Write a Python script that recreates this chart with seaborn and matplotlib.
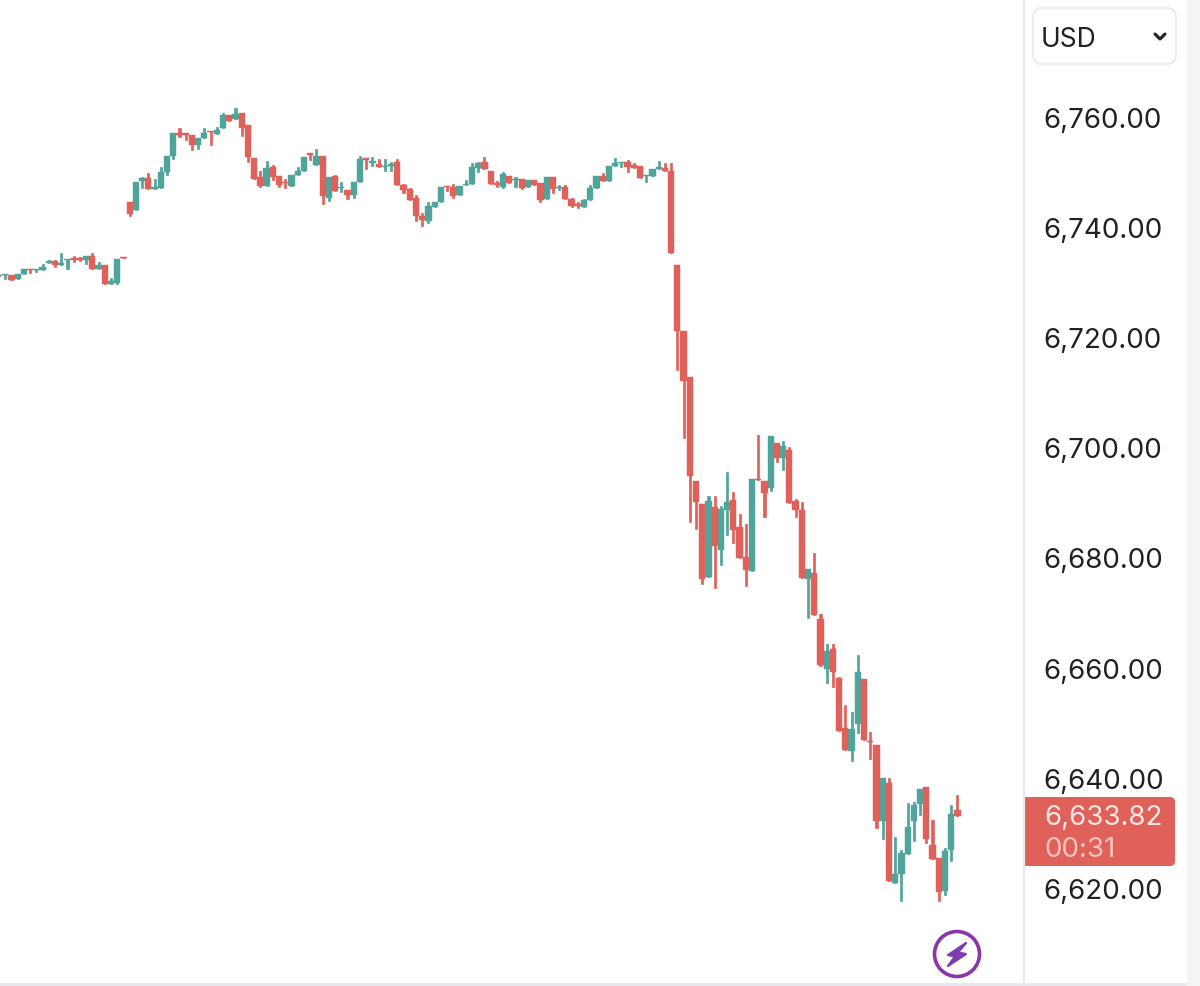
import numpy as np
import pandas as pd
import matplotlib
matplotlib.use("Agg")
import matplotlib.pyplot as plt
from matplotlib.patches import FancyBboxPatch, Rectangle, Circle, Polygon
import seaborn as sns

###
#   Candles, oldest first
###
open_price = [
    6731.5,6731.4,6731.4,6730.7,6731.6,6732.6,6732.4,6732.4,6733.7,6734.0,
    6733.2,6734.1,6734.5,6734.5,6734.2,6735.0,6732.6,6733.3,6729.8,6730.0,
    6734.8,6744.7,6743.2,6748.5,6749.0,6747.1,6747.2,6750.1,6753.0,6757.3,
    6757.2,6756.9,6755.0,6756.4,6757.6,6757.0,6758.1,6760.5,6759.8,6760.8,
    6758.7,6752.7,6749.2,6747.6,6751.1,6749.4,6748.4,6747.6,6749.6,6750.4,
    6753.6,6751.4,6753.1,6745.5,6749.5,6747.2,6746.9,6746.0,6748.4,6752.7,
    6751.8,6751.6,6751.0,6751.2,6751.9,6747.8,6747.0,6745.4,6742.1,6741.2,
    6743.8,6744.8,6747.7,6747.5,6746.0,6747.8,6747.9,6750.9,6751.9,6750.4,
    6748.1,6747.5,6749.5,6748.7,6748.9,6747.5,6748.7,6748.1,6745.2,6749.2,
    6747.2,6747.4,6745.3,6744.4,6743.8,6745.0,6747.3,6749.5,6748.5,6751.2,
    6751.8,6752.0,6751.5,6751.2,6749.5,6749.5,6750.8,6750.9,6750.3,6733.3,
    6721.3,6712.9,6694.1,6689.8,6676.7,6689.4,6681.5,6688.7,6690.6,6685.7,
    6680.3,6677.8,6694.5,6694.1,6692.8,6701.0,6698.2,6699.7,6690.5,6688.7,
    6676.2,6677.4,6669.0,6660.0,6663.6,6658.3,6649.2,6645.0,6650.0,6658.1,
    6646.9,6646.1,6632.4,6639.3,6621.0,6622.7,6626.4,6632.4,6635.4,6638.5,
    6627.9,6625.6,6619.6,6627.0,6634.3]
high_price = [
    6731.5,6731.7,6731.4,6731.6,6732.5,6732.6,6732.6,6733.5,6734.2,6734.2,
    6735.4,6734.3,6735.0,6734.8,6734.9,6735.4,6733.8,6733.3,6730.9,6734.3,
    6734.8,6744.7,6748.4,6749.3,6750.0,6748.9,6751.0,6753.0,6757.3,6758.2,
    6757.2,6756.9,6756.4,6758.2,6757.6,6758.3,6760.8,6760.5,6761.8,6760.8,
    6758.7,6752.7,6750.3,6752.1,6751.5,6749.4,6748.9,6749.6,6751.1,6752.9,
    6753.6,6754.4,6753.1,6749.2,6749.7,6748.4,6746.9,6748.4,6753.0,6752.7,
    6752.9,6752.5,6752.5,6751.9,6752.5,6748.0,6747.3,6745.9,6742.7,6744.7,
    6744.8,6747.4,6747.7,6748.0,6747.7,6748.7,6751.8,6751.9,6752.9,6750.4,
    6748.6,6750.2,6749.5,6749.2,6748.9,6748.8,6748.7,6748.1,6749.3,6749.2,
    6747.8,6747.8,6745.5,6744.8,6745.3,6747.8,6749.4,6750.0,6751.2,6752.7,
    6751.9,6752.4,6751.8,6751.2,6749.7,6750.7,6752.1,6751.8,6751.8,6733.3,
    6721.3,6712.9,6694.1,6689.8,6691.4,6691.4,6689.6,6695.7,6692.1,6688.0,
    6686.3,6694.5,6702.4,6694.1,6702.2,6701.0,6701.3,6700.3,6690.8,6690.2,
    6678.0,6681.0,6669.9,6664.4,6664.4,6658.5,6653.3,6652.1,6662.4,6658.1,
    6648.4,6646.1,6640.2,6640.1,6629.4,6627.1,6635.5,6635.8,6638.2,6638.5,
    6632.5,6625.6,6627.5,6635.3,6637.0]
low_price = [
    6731.3,6730.7,6730.6,6730.7,6731.6,6731.8,6732.0,6732.4,6733.7,6733.0,
    6733.2,6732.6,6733.9,6734.0,6733.4,6732.6,6732.6,6729.8,6729.8,6729.8,
    6734.5,6742.1,6743.2,6747.2,6747.1,6747.1,6747.2,6749.6,6752.6,6756.5,
    6755.9,6754.2,6754.4,6756.4,6755.1,6757.0,6758.1,6759.5,6759.8,6756.7,
    6752.0,6748.9,6747.4,6747.6,6748.7,6747.5,6747.2,6747.6,6749.6,6750.4,
    6752.4,6751.4,6744.4,6744.9,6746.8,6746.6,6745.2,6745.4,6748.4,6750.7,
    6751.3,6751.0,6750.4,6750.4,6747.8,6746.3,6745.0,6741.2,6740.4,6740.9,
    6743.8,6744.8,6746.7,6745.4,6746.0,6747.8,6747.9,6750.2,6750.7,6748.0,
    6747.5,6747.2,6748.1,6747.5,6747.0,6747.5,6747.8,6744.7,6745.2,6746.4,
    6746.9,6745.2,6743.8,6743.7,6743.8,6745.0,6747.3,6748.6,6748.5,6751.2,
    6751.0,6750.1,6750.9,6749.0,6748.3,6749.5,6750.8,6750.4,6735.5,6714.2,
    6701.9,6686.6,6685.4,6675.3,6676.7,6674.7,6678.8,6684.3,6682.8,6680.0,
    6674.9,6677.8,6694.2,6687.6,6692.3,6697.5,6696.1,6690.1,6687.6,6676.5,
    6669.1,6669.8,6660.4,6657.3,6656.6,6648.7,6645.2,6643.3,6648.3,6647.0,
    6643.5,6631.1,6629.1,6621.4,6621.0,6617.8,6626.4,6628.6,6633.4,6628.3,
    6625.4,6617.8,6618.8,6625.1,6633.2]
close_price = [
    6731.3,6731.7,6730.6,6731.6,6732.5,6732.4,6732.6,6733.0,6734.0,6733.2,
    6733.7,6734.3,6734.1,6734.2,6734.9,6732.6,6733.3,6729.8,6730.3,6734.3,
    6734.5,6742.6,6748.3,6749.1,6747.1,6747.5,6750.1,6753.0,6757.3,6756.9,
    6756.9,6755.1,6756.4,6757.2,6757.4,6757.8,6760.5,6759.5,6760.7,6758.1,
    6752.9,6748.9,6747.6,6750.9,6749.3,6747.8,6748.1,6749.6,6750.3,6752.9,
    6753.3,6753.0,6745.8,6749.2,6746.8,6747.4,6746.0,6748.4,6752.6,6752.4,
    6752.1,6751.0,6751.3,6751.6,6747.8,6746.9,6745.0,6742.1,6741.4,6744.0,
    6744.8,6747.4,6747.5,6745.8,6747.7,6748.0,6751.0,6751.8,6750.7,6748.0,
    6747.8,6749.8,6748.1,6748.9,6747.2,6748.8,6747.8,6745.1,6749.3,6747.1,
    6747.5,6745.2,6744.0,6744.0,6745.0,6747.2,6749.4,6748.6,6751.2,6751.8,
    6751.9,6751.0,6750.9,6749.0,6749.7,6750.7,6751.0,6750.4,6735.5,6721.3,
    6712.2,6694.9,6690.2,6676.3,6690.4,6682.3,6688.9,6690.2,6685.1,6680.0,
    6677.9,6694.5,6694.2,6691.8,6702.2,6698.2,6700.4,6690.1,6688.7,6676.5,
    6678.0,6669.8,6660.6,6663.1,6659.4,6648.7,6645.2,6649.1,6659.3,6647.0,
    6646.6,6632.4,6640.2,6621.4,6622.7,6626.5,6631.2,6635.2,6638.2,6629.1,
    6625.4,6619.4,6626.8,6633.6,6633.2]

price_ticks = [6760, 6740, 6720, 6700, 6680, 6660, 6640, 6620]
last_price = "6,633.82"
countdown = "00:31"
currency = "USD"

RED = "#e0605a"
GREEN = "#4fa59b"
BORDER = "#e8e8ee"
INK = "#1f2128"

sns.set_theme(style="white")
plt.rcParams["font.family"] = ["Inter", "DejaVu Sans"]

df = pd.DataFrame({"candle": np.arange(len(open_price)), "open": open_price,
                   "high": high_price, "low": low_price, "close": close_price})
df["body_low"] = df[["open", "close"]].min(axis=1)
df["body_size"] = (df["open"] - df["close"]).abs()
df["wick_size"] = df["high"] - df["low"]

fig = plt.figure(figsize=(12, 9.86), dpi=100)
fig.patch.set_facecolor("white")
ax = fig.add_axes([0, 3 / 986, 1024 / 1200, 983 / 986])

###
#   Wicks and bodies, one pass per direction
###
for rising, colour in [(True, GREEN), (False, RED)]:
    part = df[(df["close"] > df["open"]) == rising]
    sns.barplot(data=part, x="candle", y="wick_size", bottom=part["low"], color=colour,
                saturation=1, native_scale=True, width=0.34, linewidth=0.5, edgecolor=colour,
                errorbar=None, ax=ax)
    sns.barplot(data=part, x="candle", y="body_size", bottom=part["body_low"], color=colour,
                saturation=1, native_scale=True, width=1.0, linewidth=0.3, edgecolor=colour,
                errorbar=None, ax=ax)

ax.set_xlim(0.16, 164.7)
ax.set_ylim(6602.9, 6781.4)
ax.set_xlabel("")
ax.set_ylabel("")
ax.set_xticks([])
ax.yaxis.tick_right()
ax.set_yticks(price_ticks)
ax.set_yticklabels(["{:,.2f}".format(p) for p in price_ticks], fontsize=20, color=INK)
ax.tick_params(axis="y", length=0, pad=14)
for side in ["top", "left", "bottom"]:
    ax.spines[side].set_visible(False)
ax.spines["right"].set_color(BORDER)
ax.spines["right"].set_linewidth(1.6)

###
#   Widgets drawn over the chart, in pixel coordinates of the picture
###
over = fig.add_axes([0, 0, 1, 1], facecolor="none")
over.set_xlim(0, 1200)
over.set_ylim(986, 0)
over.axis("off")

over.add_patch(Rectangle((1187, 0), 13, 986, facecolor="#f4f4f6", edgecolor="none"))
over.add_patch(Rectangle((0, 983), 1187, 3, facecolor=BORDER, edgecolor="none"))

over.add_patch(FancyBboxPatch((1041, 16), 127, 40, boxstyle="round,pad=8,rounding_size=9",
                              facecolor="white", edgecolor=BORDER, linewidth=1.2))
over.text(1041, 37, currency, fontsize=19, color=INK, va="center_baseline", ha="left")
over.plot([1155, 1160, 1165], [34, 39, 34], color=INK, linewidth=2.2, solid_capstyle="round")

over.add_patch(FancyBboxPatch((1000, 803), 169, 57, boxstyle="round,pad=6,rounding_size=5",
                              facecolor=RED, edgecolor="none"))
over.add_patch(Rectangle((994, 797), 31, 69, facecolor="white", edgecolor="none"))
over.plot([1024, 1024], [797, 866], color=BORDER, linewidth=1.6)
over.text(1044, 815, last_price, fontsize=20, color="#fbe7e5", va="center_baseline", ha="left")
over.text(1044, 847, countdown, fontsize=20, color="#f6c2be", va="center_baseline", ha="left")

over.add_patch(Circle((957, 954), 22.5, facecolor="white", edgecolor="#8b35a8", linewidth=2.6))
over.add_patch(Polygon([(966, 943), (948, 955), (955, 956.5), (948, 966), (966, 954), (958, 952.5)],
                       closed=True, facecolor="#7e3cae", edgecolor="#7e3cae", linewidth=1.6, joinstyle="round"))

fig.savefig("out.png", dpi=100)
